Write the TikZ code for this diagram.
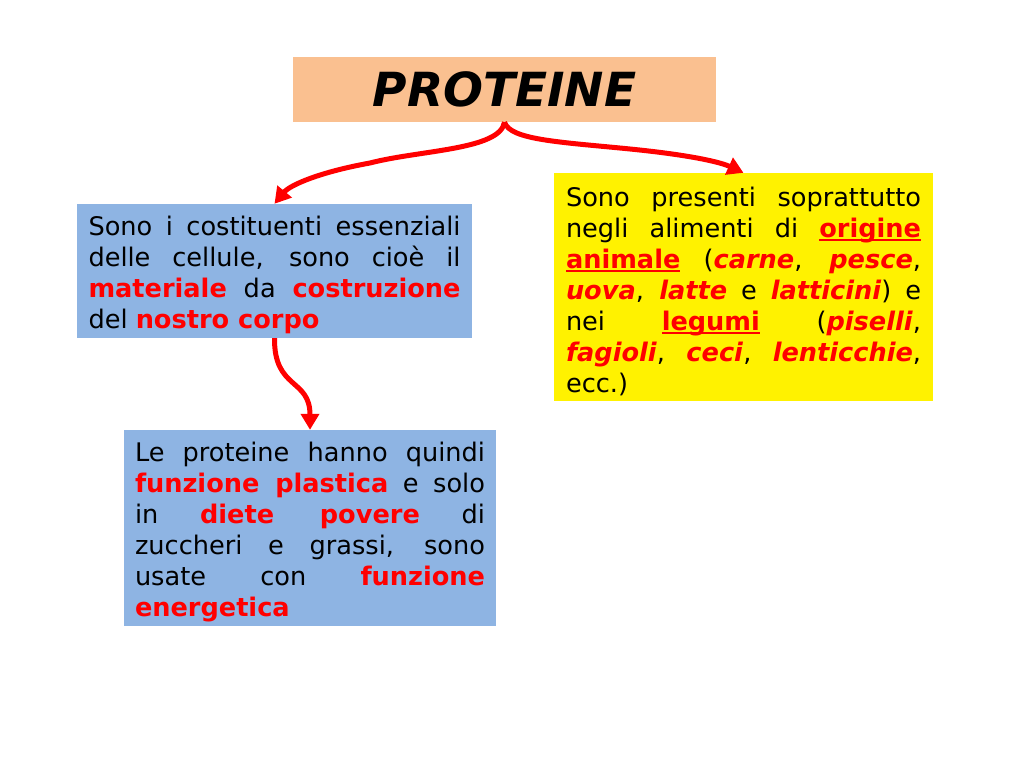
\documentclass[tikz,border=0pt]{standalone}
\usepackage{fontspec}
\setmainfont{DejaVu Sans}
\usetikzlibrary{arrows.meta}

\definecolor{peach}{HTML}{FAC090}
\definecolor{skyblue}{HTML}{8EB4E3}

\newcommand{\key}[1]{\textcolor{red}{\textbf{#1}}}
\newcommand{\keyit}[1]{\textcolor{red}{\textbf{\itshape #1}}}
\newcommand{\undrl}[1]{\setbox0\hbox{#1}\rlap{\color{red}\rule[-4pt]{\wd0}{2.5pt}}\box0\relax}
\newcommand{\jline}[1]{\makebox[\hsize][s]{\spaceskip=0pt\xspaceskip=0pt\relax #1}\par}
\newcommand{\topstrut}{\rule{0pt}{27.5pt}}

\begin{document}
\begin{tikzpicture}[x=1pt,y=-1pt]
    \useasboundingbox (0,0) rectangle (1024,768);

    \begin{scope}[every node/.style={rectangle,inner ysep=0pt,align=justify,
                  font=\fontsize{25.6pt}{31pt}\selectfont}]
        \node [fill=peach,minimum width=423pt,minimum height=65pt,align=center,
               font=\fontsize{47pt}{56pt}\selectfont] (prot) at (504.5,89.5)
              {\textbf{\itshape PROTEINE}};
        \node [fill=skyblue,text width=372pt,inner xsep=11.5pt,
               minimum height=134pt] (cell) at (274.5,271) {%
            \jline{\topstrut Sono i costituenti essenziali}
            \jline{delle cellule, sono cioè il}
            \jline{\key{materiale} da \key{costruzione}}
            del \key{nostro corpo}};
        \node [fill=yellow,text width=355pt,inner xsep=12pt,
               minimum height=228pt] (food) at (743.5,287) {%
            \jline{\topstrut Sono presenti soprattutto}
            \jline{negli alimenti di \undrl{\key{origine}}}
            \jline{\undrl{\key{animale}} (\keyit{carne}, \keyit{pesce},}
            \jline{\keyit{uova}, \keyit{latte} e \keyit{latticini}) e}
            \jline{nei \undrl{\key{legumi}} (\keyit{piselli},}
            \jline{\keyit{fagioli}, \keyit{ceci}, \keyit{lenticchie},}
            ecc.)};
        \node [fill=skyblue,text width=350pt,inner xsep=11pt,
               minimum height=196pt] (plast) at (310,528) {%
            \jline{\topstrut Le proteine hanno quindi}
            \jline{\key{funzione plastica} e solo}
            \jline{in \key{diete povere} di}
            \jline{zuccheri e grassi, sono}
            \jline{usate con \key{funzione}}
            \key{energetica}};
    \end{scope}

    % red curved arrows between the boxes
    \begin{scope}[>={Triangle[length=16pt,width=18pt]},
                  red, line width=5pt]
        \coordinate (lmid) at (370,163);
        \coordinate (rmid) at (630,149);
        \draw [->] (prot.south) .. controls (500,150) and (420,150) .. (lmid)
                   .. controls (320,172) and (290,185) .. (cell.north);
        \draw [->] (prot.south) .. controls (510,140) and (560,142) .. (rmid)
                   .. controls (690,155) and (720,162) .. (food.north);
        \draw [->] (cell.south) .. controls (274,390) and (310,378) .. (plast.north);
    \end{scope}
\end{tikzpicture}
\end{document}
